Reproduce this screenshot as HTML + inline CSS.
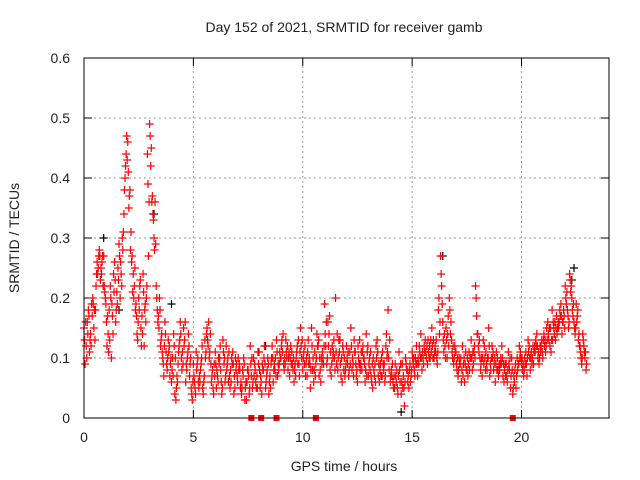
<!DOCTYPE html>
<html><head><meta charset="utf-8"><style>
body{margin:0;background:#fff}
svg{display:block;font-family:"Liberation Sans",sans-serif}
</style></head><body>
<svg id="c" width="640" height="480">
<rect width="640" height="480" fill="#fff"/>
<text x="344" y="32" font-size="14" text-anchor="middle" fill="#222">Day 152 of 2021, SRMTID for receiver gamb</text>
<text x="344" y="471" font-size="14" text-anchor="middle" fill="#222">GPS time / hours</text>
<text x="0" y="0" font-size="14" text-anchor="middle" fill="#222" transform="translate(19,238) rotate(-90)">SRMTID / TECUs</text>
<g id="grid"></g>
<g id="ticks"></g>
<g id="pts"></g>
<rect x="84" y="58" width="525" height="360" fill="none" stroke="#000" stroke-width="1"/>
</svg>
<script>
const xTicks=[0,5,10,15,20];
const yTicks=[0,0.1,0.2,0.3,0.4,0.5,0.6];
const yTickLabels=["0","0.1","0.2","0.3","0.4","0.5","0.6"];
const redA=[0.15,0.12,0.18,0.14,0.2,0.13,0.26,0.28,0.24,0.27,
0.19,0.14,0.22,0.17,0.26,0.21,0.29,0.24,0.31,0.42,
0.46,0.38,0.27,0.22,0.17,0.2,0.15,0.24,0.19,0.44,
0.49,0.36,0.3,0.22,0.17,0.12,0.1,0.16,0.08,0.12,
0.06,0.14,0.03,0.09,0.16,0.11,0.13,0.08,0.12,0.05,
0.09,0.04,0.1,0.06,0.12,0.07,0.14,0.16,0.09,0.05,
0.11,0.07,0.1,0.04,0.09,0.12,0.06,0.08,0.11,0.05,
0.07,0.09,0.04,0.1,0.06,0.08,0.12,0.05,0.09,0.07,
0.11,0.06,0.08,0.05,0.1,0.07,0.12,0.09,0.13,0.08,
0.1,0.14,0.09,0.12,0.07,0.11,0.06,0.1,0.13,0.15,
0.08,0.12,0.07,0.1,0.15,0.06,0.09,0.12,0.08,0.11,
0.19,0.09,0.14,0.07,0.11,0.2,0.08,0.13,0.06,0.1,
0.12,0.07,0.15,0.09,0.11,0.06,0.13,0.08,0.1,0.14,
0.07,0.11,0.05,0.09,0.13,0.06,0.1,0.08,0.12,0.18,
0.06,0.09,0.05,0.08,0.11,0.04,0.07,0.1,0.06,0.09,
0.11,0.08,0.12,0.09,0.14,0.1,0.13,0.09,0.12,0.15,
0.1,0.13,0.18,0.27,0.16,0.12,0.1,0.2,0.13,0.09,
0.11,0.07,0.09,0.12,0.06,0.08,0.11,0.13,0.09,0.22,
0.14,0.1,0.07,0.12,0.09,0.15,0.08,0.11,0.06,0.1,
0.08,0.12,0.06,0.09,0.11,0.05,0.04,0.08,0.1,0.12,
0.09,0.07,0.11,0.13,0.08,0.1,0.12,0.14,0.09,0.12,
0.13,0.11,0.16,0.12,0.18,0.14,0.17,0.15,0.19,0.16,
0.22,0.18,0.24,0.2,0.16,0.19,0.13,0.11,0.14,0.1];
const redB=[0.09,0.16,0.11,0.19,0.15,0.22,0.25,0.23,0.27,0.21,
0.12,0.18,0.1,0.24,0.16,0.25,0.2,0.3,0.38,0.47,
0.35,0.31,0.24,0.18,0.13,0.22,0.17,0.12,0.2,0.27,
0.42,0.34,0.36,0.18,0.2,0.14,0.07,0.11,0.13,0.09,
0.1,0.04,0.07,0.12,0.1,0.15,0.06,0.11,0.09,0.03,
0.06,0.08,0.05,0.09,0.04,0.1,0.13,0.11,0.07,0.09,
0.05,0.1,0.08,0.13,0.06,0.09,0.07,0.1,0.04,0.08,
0.1,0.05,0.08,0.03,0.06,0.04,0.07,0.1,0.06,0.11,
0.05,0.09,0.12,0.07,0.04,0.09,0.06,0.1,0.07,0.11,
0.13,0.08,0.11,0.1,0.12,0.08,0.09,0.12,0.07,0.1,
0.11,0.09,0.13,0.05,0.08,0.11,0.14,0.07,0.1,0.09,
0.12,0.16,0.08,0.12,0.1,0.09,0.13,0.07,0.11,0.08,
0.09,0.11,0.08,0.13,0.07,0.1,0.09,0.12,0.06,0.11,
0.1,0.06,0.08,0.12,0.07,0.09,0.11,0.06,0.1,0.08,
0.08,0.05,0.07,0.04,0.06,0.09,0.02,0.08,0.05,0.07,
0.09,0.1,0.07,0.11,0.08,0.12,0.1,0.11,0.13,0.1,
0.12,0.09,0.14,0.22,0.11,0.15,0.17,0.14,0.1,0.12,
0.08,0.1,0.06,0.09,0.11,0.07,0.1,0.08,0.12,0.17,
0.11,0.09,0.13,0.08,0.1,0.07,0.12,0.09,0.11,0.07,
0.1,0.07,0.09,0.06,0.08,0.1,0.07,0.05,0.09,0.11,
0.08,0.1,0.07,0.12,0.11,0.09,0.13,0.1,0.12,0.11,
0.12,0.15,0.13,0.11,0.16,0.13,0.15,0.18,0.14,0.17,
0.19,0.15,0.21,0.17,0.14,0.17,0.12,0.09,0.12,0.08];
const redC=[0.13,0.1,0.17,0.12,0.19,0.18,0.24,0.27,0.26,0.22,
0.16,0.11,0.2,0.14,0.23,0.19,0.27,0.22,0.34,0.44,
0.41,0.28,0.21,0.25,0.14,0.18,0.12,0.21,0.16,0.39,
0.47,0.37,0.28,0.2,0.15,0.13,0.09,0.14,0.1,0.07,
0.08,0.12,0.05,0.11,0.14,0.09,0.16,0.1,0.07,0.04,
0.07,0.11,0.06,0.08,0.05,0.13,0.15,0.1,0.06,0.04,
0.09,0.06,0.12,0.05,0.1,0.08,0.11,0.06,0.09,0.1,
0.06,0.08,0.05,0.09,0.03,0.07,0.09,0.06,0.08,0.05,
0.08,0.04,0.1,0.06,0.09,0.05,0.1,0.08,0.11,0.09,
0.12,0.09,0.13,0.08,0.1,0.09,0.08,0.11,0.09,0.12,
0.1,0.07,0.11,0.09,0.12,0.08,0.1,0.13,0.06,0.1,
0.14,0.1,0.17,0.09,0.13,0.11,0.1,0.09,0.12,0.07,
0.1,0.08,0.12,0.07,0.09,0.12,0.08,0.11,0.09,0.07,
0.09,0.07,0.1,0.06,0.11,0.08,0.07,0.09,0.14,0.1,
0.07,0.06,0.09,0.05,0.08,0.06,0.05,0.09,0.07,0.06,
0.1,0.07,0.09,0.12,0.1,0.09,0.11,0.13,0.1,0.12,
0.11,0.1,0.2,0.24,0.13,0.1,0.14,0.18,0.11,0.1,
0.09,0.08,0.1,0.07,0.09,0.1,0.08,0.1,0.11,0.2,
0.12,0.08,0.1,0.1,0.08,0.12,0.1,0.08,0.09,0.08,
0.09,0.1,0.08,0.07,0.09,0.07,0.05,0.09,0.08,0.1,
0.1,0.08,0.09,0.11,0.1,0.12,0.11,0.12,0.1,0.13,
0.14,0.12,0.14,0.15,0.13,0.16,0.14,0.16,0.17,0.18,
0.2,0.17,0.23,0.18,0.15,0.16,0.14,0.1,0.13,0.11];
const redD=[0.16,0.14,0.13,0.17,0.18,0.24,0.27,0.25,0.22,0.2,
0.17,0.13,0.19,0.21,0.18,0.23,0.26,0.28,0.4,0.43,
0.37,0.26,0.2,0.19,0.16,0.23,0.14,0.18,0.22,0.36,
0.45,0.33,0.29,0.16,0.18,0.11,0.12,0.09,0.11,0.1,
0.07,0.1,0.06,0.13,0.08,0.12,0.09,0.14,0.1,0.06,
0.05,0.09,0.07,0.1,0.06,0.11,0.12,0.14,0.08,0.07,
0.08,0.09,0.06,0.11,0.07,0.1,0.05,0.09,0.07,0.09,
0.08,0.06,0.07,0.05,0.08,0.05,0.1,0.07,0.05,0.09,
0.07,0.08,0.09,0.08,0.06,0.1,0.08,0.07,0.09,0.1,
0.11,0.1,0.1,0.11,0.09,0.1,0.07,0.09,0.11,0.13,
0.09,0.1,0.09,0.08,0.1,0.07,0.12,0.1,0.09,0.12,
0.16,0.12,0.11,0.1,0.08,0.14,0.11,0.1,0.08,0.09,
0.11,0.09,0.1,0.11,0.08,0.09,0.11,0.1,0.08,0.12,
0.08,0.09,0.07,0.1,0.09,0.07,0.09,0.07,0.11,0.13,
0.07,0.07,0.06,0.07,0.09,0.05,0.06,0.08,0.08,0.08,
0.1,0.09,0.1,0.1,0.11,0.11,0.12,0.1,0.11,0.13,
0.11,0.11,0.16,0.19,0.14,0.13,0.12,0.16,0.12,0.11,
0.1,0.09,0.08,0.1,0.08,0.09,0.1,0.11,0.1,0.14,
0.13,0.1,0.09,0.11,0.1,0.09,0.1,0.1,0.08,0.09,
0.09,0.09,0.07,0.08,0.1,0.08,0.06,0.07,0.09,0.1,
0.09,0.09,0.1,0.1,0.09,0.11,0.12,0.11,0.11,0.1,
0.13,0.13,0.15,0.13,0.15,0.15,0.16,0.17,0.16,0.15,
0.21,0.16,0.22,0.19,0.15,0.18,0.12,0.1,0.11,0.09];
const blackTimes=[0.9,3.2,4.0,8.3,14.5,16.4,22.3,22.4,1.6,12.6];
const blackValues=[0.30,0.34,0.19,0.12,0.01,0.27,0.23,0.25,0.18,0.09];
const zeroTimes=[7.65,8.1,8.8,10.6,19.6];
const stepHours=0.1;
const X0=84,X1=609,Y0=418,Y1=58,XMAX=24,YMAX=0.6;
const xs=h=>X0+h/XMAX*(X1-X0);
const ys=v=>Y0-v/YMAX*(Y0-Y1);
const NS="http://www.w3.org/2000/svg";
const grid=document.getElementById('grid'),ticks=document.getElementById('ticks'),pts=document.getElementById('pts');
function mk(tag,at,parent){const e=document.createElementNS(NS,tag);for(const k in at)e.setAttribute(k,at[k]);parent.appendChild(e);return e;}
yTicks.forEach((v,i)=>{
  const y=ys(v);
  if(i>0&&i<yTicks.length-1){const g=mk('line',{x1:X0,x2:X1,y1:y,y2:y,stroke:'#999','stroke-dasharray':'2,3'},grid);
  
  }
  mk('line',{x1:X0,x2:X0+8,y1:y,y2:y,stroke:'#000'},ticks);
  mk('line',{x1:X1-8,x2:X1,y1:y,y2:y,stroke:'#000'},ticks);
  const t=mk('text',{x:X0-14,y:y+5,'font-size':14,'text-anchor':'end',fill:'#222'},ticks);
  t.textContent=yTickLabels[i];
  
  
});
xTicks.forEach(h=>{
  const x=xs(h);
  if(h>0){const g=mk('line',{x1:x,x2:x,y1:Y0,y2:Y1,stroke:'#999','stroke-dasharray':'2,3'},grid);
  
  }
  mk('line',{x1:x,x2:x,y1:Y0,y2:Y0-8,stroke:'#000'},ticks);
  mk('line',{x1:x,x2:x,y1:Y1,y2:Y1+8,stroke:'#000'},ticks);
  const t=mk('text',{x:x,y:Y0+24,'font-size':14,'text-anchor':'middle',fill:'#222'},ticks);
  t.textContent=String(h);
  
  
});
function plus(x,y,col,name){
  const p=mk('path',{d:`M${x-4},${y}H${x+4}M${x},${y-4}V${y+4}`,stroke:col,'stroke-width':1.2,fill:'none'},pts);
  
  
}
blackValues.forEach((v,i)=>plus(xs(blackTimes[i]),ys(v),'#000','black-point'));
redA.forEach((v,i)=>plus(xs(i*stepHours),ys(v),'#f00','red-point'));
redC.forEach((v,i)=>plus(xs(i*stepHours+stepHours/4),ys(v),'#f00','red-point'));
redB.forEach((v,i)=>plus(xs(i*stepHours+stepHours/2),ys(v),'#f00','red-point'));
redD.forEach((v,i)=>plus(xs(i*stepHours+3*stepHours/4),ys(v),'#f00','red-point'));
zeroTimes.forEach(h=>{
  const r=mk('rect',{x:xs(h)-3,y:Y0-3,width:6,height:6,fill:'#f00'},pts);
  
  
});
</script>
</body></html>
